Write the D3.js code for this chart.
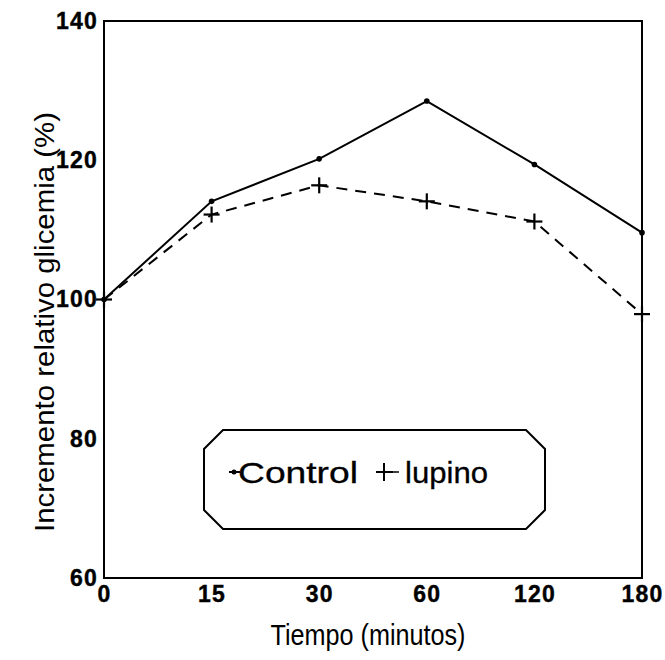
<!DOCTYPE html>
<html><head><meta charset="utf-8">
<script src="https://cdn.jsdelivr.net/npm/d3@7"></script>
<style>
body{margin:0;background:#fff;}
svg{display:block;}
.tk{letter-spacing:1.2px;}
</style></head>
<body>
<svg id="c" width="665" height="660"></svg>
<script>
const categories = ["0","15","30","60","120","180"];
const controlValues = [100, 114.1, 120.2, 128.5, 119.4, 109.6];
const lupinoValues = [100, 112.2, 116.4, 114.1, 111.2, 97.9];
const yTicks = [60, 80, 100, 120, 140];
const xTitle = "Tiempo (minutos)";
const yTitle = "Incremento relativo glicemia (%)";
const legendLabels = ["Control", "lupino"];

const svg = d3.select("#c");
const m = {left:104, right:642, top:21, bottom:578};
const x = d3.scalePoint().domain(categories).range([m.left, m.right]);
const y = d3.scaleLinear().domain([60,140]).range([m.bottom, m.top]);

const tickFont = "'Liberation Sans', Arial, sans-serif";

// frame
svg.append("rect").attr("x", m.left).attr("y", m.top)
  .attr("width", m.right-m.left).attr("height", m.bottom-m.top)
  .attr("fill","none").attr("stroke","#000").attr("stroke-width",2);

// axes
const yAxis = d3.axisLeft(y).tickValues(yTicks).tickSize(0).tickPadding(6);
const gy = svg.append("g").attr("transform",`translate(${m.left},0)`).call(yAxis);
gy.select(".domain").remove();
gy.selectAll("text").attr("class","tk").attr("font-family", tickFont).attr("font-weight","bold")
  .attr("font-size", 23).attr("fill","#000").attr("stroke","#000").attr("stroke-width",0.4);

const xAxis = d3.axisBottom(x).tickSize(0).tickPadding(8);
const gx = svg.append("g").attr("transform",`translate(0,${m.bottom})`).call(xAxis);
gx.select(".domain").remove();
gx.selectAll("text").attr("class","tk").attr("font-family", tickFont).attr("font-weight","bold")
  .attr("font-size", 23).attr("fill","#000").attr("stroke","#000").attr("stroke-width",0.4);

// titles (condensed via textLength)
svg.append("text").attr("x", 368).attr("y", 645)
  .attr("text-anchor","middle").attr("font-family", tickFont)
  .attr("font-size", 30).attr("fill","#000")
  .attr("textLength", 195).attr("lengthAdjust","spacingAndGlyphs").text(xTitle);
svg.append("text").attr("transform", `translate(54,${322}) rotate(-90)`)
  .attr("text-anchor","middle").attr("font-family", tickFont)
  .attr("font-size", 28).attr("fill","#000")
  .attr("textLength", 420).attr("lengthAdjust","spacingAndGlyphs").text(yTitle);

// lines
const line = d3.line().x((d,i)=>x(categories[i])).y(d=>y(d));
svg.append("path").datum(controlValues).attr("d", line)
  .attr("fill","none").attr("stroke","#000").attr("stroke-width",2);
svg.append("path").datum(lupinoValues).attr("d", line)
  .attr("fill","none").attr("stroke","#000").attr("stroke-width",2)
  .attr("stroke-dasharray","11,8");

// markers
svg.selectAll(".dot").data(controlValues).enter().append("circle")
  .attr("cx",(d,i)=>x(categories[i])).attr("cy",d=>y(d)).attr("r",2.8).attr("fill","#000");
const plus = svg.selectAll(".plus").data(lupinoValues).enter().append("g")
  .attr("transform",(d,i)=>`translate(${x(categories[i])},${y(d)})`);
plus.append("line").attr("x1",-8).attr("x2",8).attr("stroke","#000").attr("stroke-width",2.2);
plus.append("line").attr("y1",-8).attr("y2",8).attr("stroke","#000").attr("stroke-width",2.2);

// legend box with chamfered corners
const bx0=204, bx1=545, by0=430, by1=529, c=19;
svg.append("path").attr("d",
  `M${bx0+c},${by0} L${bx1-c},${by0} L${bx1},${by0+c} L${bx1},${by1-c} L${bx1-c},${by1} L${bx0+c},${by1} L${bx0},${by1-c} L${bx0},${by0+c} Z`)
  .attr("fill","none").attr("stroke","#000").attr("stroke-width",2);

const ly = 472;
svg.append("line").attr("x1",229).attr("x2",240).attr("y1",ly).attr("y2",ly).attr("stroke","#000").attr("stroke-width",2);
svg.append("circle").attr("cx",234).attr("cy",ly).attr("r",2.5).attr("fill","#000");
svg.append("text").attr("x",238).attr("y",ly+11).attr("font-family",tickFont)
  .attr("font-size",29).attr("fill","#000").attr("stroke","#000").attr("stroke-width",0.3)
  .attr("textLength",120).attr("lengthAdjust","spacingAndGlyphs").text(legendLabels[0]);
svg.append("line").attr("x1",376).attr("x2",393).attr("y1",ly).attr("y2",ly).attr("stroke","#000").attr("stroke-width",2);
svg.append("line").attr("x1",384).attr("x2",384).attr("y1",ly-9).attr("y2",ly+9).attr("stroke","#000").attr("stroke-width",2);
svg.append("line").attr("x1",393).attr("x2",399).attr("y1",ly).attr("y2",ly).attr("stroke","#000").attr("stroke-width",1.5);
svg.append("text").attr("x",405).attr("y",ly+11).attr("font-family",tickFont)
  .attr("font-size",29).attr("fill","#000").attr("stroke","#000").attr("stroke-width",0.3)
  .attr("textLength",83).attr("lengthAdjust","spacingAndGlyphs").text(legendLabels[1]);
</script>
</body></html>
